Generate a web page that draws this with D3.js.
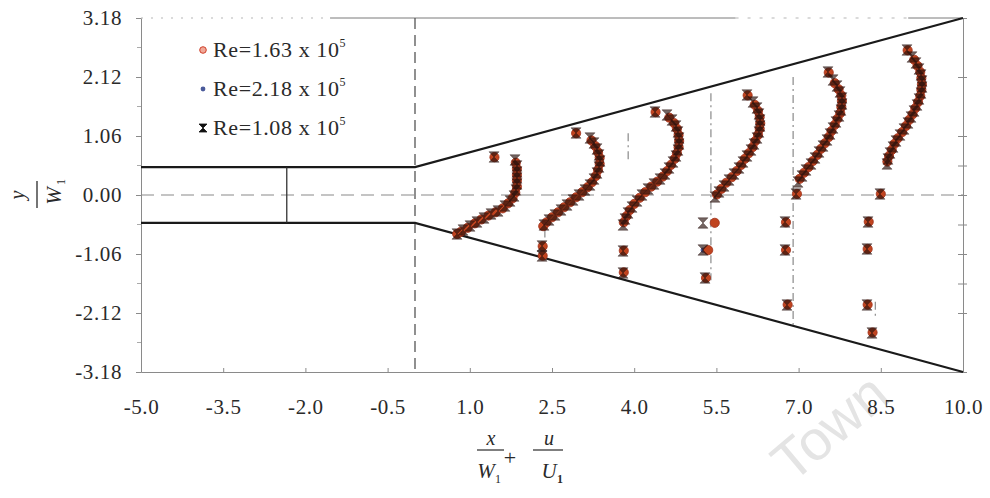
<!DOCTYPE html>
<html><head><meta charset="utf-8">
<script src="https://cdn.jsdelivr.net/npm/d3@7"></script>
<style>
html,body{margin:0;padding:0;background:#fff;}
svg{display:block;font-family:"Liberation Serif","Times New Roman",serif;}
</style></head><body>
<svg id="chart" width="990" height="498"></svg>
<script>
// Axis ticks
const xTicks = [-5.0, -3.5, -2.0, -0.5, 1.0, 2.5, 4.0, 5.5, 7.0, 8.5, 10.0];
const yTicks = [3.18, 2.12, 1.06, 0, -1.06, -2.12, -3.18];
const yMinorTicks = [2.65, 1.59, 0.53, -0.53, -1.59, -2.65];

// Channel and diffuser walls (x/W1, y/W1)
const upperWall = [[-5, 0.5], [0, 0.5], [10, 3.18]];
const lowerWall = [[-5, -0.5], [0, -0.5], [10, -3.18]];
const throatMark = [[-2.34, 0.5], [-2.34, -0.5]];

// Measurement station guide lines [x, yTop, yBottom]
const stationLines = [
  [2.37, -0.62, -0.88],
  [3.89, 1.11, 0.63],
  [5.40, 1.83, -1.53],
  [6.90, 2.12, -2.33],
  [8.40, -1.92, -2.22]
];

// Legend labels
const seriesLabels = ["Re=1.63 x 10", "Re=2.18 x 10", "Re=1.08 x 10"];
const seriesExp = ["5", "5", "5"];

// Velocity profiles, x/W1 + u/U1 against y/W1
const re108 = [
  // station 1
  [1.442,0.683],[1.825,0.629],[1.861,0.521],[1.861,0.413],[1.861,0.305],[1.861,0.198],[1.843,0.090],[1.807,-0.018],[1.734,-0.108],[1.642,-0.198],[1.515,-0.287],[1.387,-0.341],[1.259,-0.413],[1.131,-0.485],[1.004,-0.557],[0.876,-0.629],[0.766,-0.701],
  // station 2
  [2.938,1.114],[3.193,1.024],[3.266,0.934],[3.321,0.826],[3.358,0.719],[3.376,0.611],[3.358,0.503],[3.321,0.395],[3.266,0.287],[3.193,0.180],[3.102,0.090],[2.993,0.000],[2.883,-0.090],[2.774,-0.180],[2.664,-0.269],[2.555,-0.359],[2.445,-0.449],[2.354,-0.539],[2.318,-0.916],[2.318,-1.096],
  // station 3
  [4.380,1.491],[4.599,1.437],[4.690,1.347],[4.763,1.240],[4.799,1.132],[4.818,1.024],[4.818,0.916],[4.799,0.808],[4.763,0.701],[4.708,0.593],[4.635,0.485],[4.562,0.377],[4.471,0.287],[4.361,0.198],[4.252,0.108],[4.142,0.000],[4.051,-0.108],[3.960,-0.216],[3.887,-0.323],[3.832,-0.431],[3.796,-0.539],[3.796,-1.006],[3.796,-1.401],
  // station 4
  [6.058,1.797],[6.168,1.671],[6.241,1.563],[6.277,1.455],[6.296,1.347],[6.296,1.240],[6.277,1.132],[6.241,1.024],[6.186,0.916],[6.131,0.808],[6.058,0.701],[5.985,0.593],[5.912,0.485],[5.821,0.377],[5.730,0.269],[5.639,0.162],[5.547,0.054],[5.474,-0.036],[5.255,-0.503],[5.255,-0.988],[5.292,-1.491],
  // station 5
  [7.536,2.210],[7.628,2.066],[7.701,1.958],[7.755,1.851],[7.792,1.743],[7.792,1.635],[7.774,1.527],[7.737,1.419],[7.682,1.312],[7.628,1.204],[7.573,1.096],[7.518,0.988],[7.445,0.880],[7.372,0.773],[7.299,0.665],[7.226,0.557],[7.135,0.449],[7.062,0.341],[6.989,0.234],[6.953,0.018],[6.752,-0.485],[6.752,-0.988],[6.788,-1.976],
  // station 6
  [8.978,2.605],[9.069,2.479],[9.142,2.372],[9.197,2.264],[9.234,2.156],[9.252,2.048],[9.252,1.940],[9.234,1.833],[9.197,1.725],[9.161,1.617],[9.106,1.509],[9.051,1.401],[8.996,1.294],[8.923,1.186],[8.850,1.078],[8.777,0.970],[8.723,0.862],[8.668,0.755],[8.631,0.647],[8.613,0.557],[8.485,0.018],[8.266,-0.485],[8.248,-0.970],[8.248,-1.976],[8.339,-2.479]
];

const re163 = [
  // station 1
  [1.45,0.68],[1.84,0.58],[1.86,0.47],[1.86,0.36],[1.86,0.26],[1.86,0.15],[1.83,0.04],[1.78,-0.06],[1.70,-0.15],[1.60,-0.24],[1.47,-0.31],[1.34,-0.37],[1.21,-0.44],[1.09,-0.51],[0.96,-0.59],[0.84,-0.66],[0.77,-0.70],
  // station 2
  [2.94,1.11],[3.22,0.98],[3.29,0.88],[3.34,0.77],[3.37,0.67],[3.37,0.56],[3.34,0.45],[3.30,0.34],[3.23,0.23],[3.15,0.14],[3.05,0.05],[2.94,-0.04],[2.83,-0.13],[2.72,-0.22],[2.61,-0.31],[2.50,-0.40],[2.40,-0.49],[2.34,-0.56],[2.33,-0.92],[2.33,-1.09],
  // station 3
  [4.39,1.49],[4.64,1.39],[4.73,1.29],[4.78,1.19],[4.81,1.08],[4.82,0.97],[4.81,0.86],[4.78,0.75],[4.74,0.65],[4.67,0.54],[4.60,0.43],[4.52,0.33],[4.42,0.24],[4.31,0.15],[4.20,0.05],[4.10,-0.05],[4.00,-0.16],[3.92,-0.27],[3.86,-0.38],[3.81,-0.49],[3.81,-1.00],[3.81,-1.39],
  // station 4
  [6.07,1.79],[6.20,1.62],[6.26,1.51],[6.29,1.40],[6.30,1.29],[6.29,1.19],[6.26,1.08],[6.21,0.97],[6.16,0.86],[6.09,0.75],[6.02,0.65],[5.95,0.54],[5.87,0.43],[5.78,0.32],[5.68,0.22],[5.59,0.11],[5.51,0.01],[5.47,-0.50],[5.35,-0.99],[5.31,-1.49],
  // station 5
  [7.55,2.20],[7.66,2.01],[7.73,1.90],[7.78,1.79],[7.79,1.69],[7.78,1.58],[7.76,1.47],[7.71,1.37],[7.66,1.26],[7.60,1.15],[7.55,1.04],[7.48,0.93],[7.41,0.83],[7.34,0.72],[7.26,0.61],[7.18,0.50],[7.10,0.40],[7.02,0.29],[6.97,0.02],[6.77,-0.49],[6.77,-0.99],[6.80,-1.97],
  // station 6
  [8.99,2.60],[9.11,2.43],[9.17,2.32],[9.22,2.21],[9.24,2.10],[9.25,1.99],[9.24,1.89],[9.22,1.78],[9.18,1.67],[9.13,1.56],[9.08,1.45],[9.02,1.35],[8.96,1.24],[8.89,1.13],[8.81,1.02],[8.75,0.92],[8.70,0.81],[8.65,0.70],[8.62,0.60],[8.50,0.02],[8.28,-0.48],[8.26,-0.97],[8.26,-1.97],[8.35,-2.47]
];

const re218 = [
  [1.85,0.47],[1.83,0.05],[1.45,-0.32],[0.94,-0.60],
  [3.30,0.88],[3.34,0.45],[3.05,0.05],[2.61,-0.31],[2.32,-0.93],
  [4.73,1.29],[4.81,0.86],[4.60,0.43],[4.20,0.05],[3.86,-0.38],[3.80,-1.00],
  [6.27,1.50],[6.21,0.97],[5.95,0.54],[5.59,0.10],[5.26,-0.99],
  [7.77,1.80],[7.65,1.26],[7.41,0.83],[7.10,0.39],[6.76,-0.99],
  [9.22,2.21],[9.18,1.67],[8.96,1.24],[8.70,0.81],[8.62,0.58],[8.49,0.03]
];

const svg = d3.select("#chart");
const x = d3.scaleLinear().domain([-5, 10]).range([141, 963]);
const y = d3.scaleLinear().domain([-3.18, 3.18]).range([372, 18]);

const axisColor = "#8a8a8a";
const textColor = "#2a2a2a";

// faint page watermark behind the chart
svg.append("text").attr("transform", "translate(792,484) rotate(-40)")
  .attr("font-family", "Liberation Sans, Arial, sans-serif").attr("font-size", 56)
  .attr("fill", "#e4e4e4").text("Town");

// ---- frame and axes ----
const gLeft = svg.append("g").attr("transform", `translate(${x(-5)},0)`)
  .call(d3.axisLeft(y).tickValues(yTicks).tickFormat(d => d.toFixed(2)).tickSize(5).tickPadding(14));
gLeft.selectAll(".tick line").attr("stroke", axisColor);
gLeft.select(".domain").attr("stroke", axisColor);
gLeft.selectAll("text").attr("font-size", 21).attr("letter-spacing", 0.6).attr("fill", textColor).attr("font-family", "Liberation Serif");
gLeft.selectAll(".minor").data(yMinorTicks).enter().append("line")
  .attr("x1", -4).attr("x2", 0).attr("y1", d => y(d)).attr("y2", d => y(d)).attr("stroke", "#aaa");

const gBottom = svg.append("g").attr("transform", `translate(0,${y(-3.18)})`)
  .call(d3.axisBottom(x).tickValues(xTicks).tickFormat(d => d.toFixed(1)).tickSizeInner(-4).tickSizeOuter(0).tickPadding(27));
gBottom.selectAll(".tick line").attr("stroke", axisColor);
gBottom.select(".domain").attr("stroke", axisColor);
gBottom.selectAll("text").attr("font-size", 21).attr("letter-spacing", 0.6).attr("fill", textColor).attr("font-family", "Liberation Serif");

const gRight = svg.append("g").attr("transform", `translate(${x(10)},0)`)
  .call(d3.axisRight(y).tickValues(yTicks.concat([0.53, -0.53, -1.59])).tickFormat("").tickSize(4).tickSizeOuter(0));
gRight.selectAll(".tick line").attr("stroke", axisColor).attr("x1", -5);
gRight.select(".domain").attr("stroke", axisColor);

// top border, partly broken
const topBorder = svg.append("g");
topBorder.append("line").attr("x1", x(-5)).attr("x2", x(-1.55)).attr("y1", y(3.18)).attr("y2", y(3.18))
  .attr("stroke", "#b5b5b5").attr("stroke-dasharray", "2,8");
topBorder.append("line").attr("x1", x(-1.55)).attr("x2", x(5.85)).attr("y1", y(3.18)).attr("y2", y(3.18))
  .attr("stroke", "#7a7a7a");
topBorder.append("line").attr("x1", x(5.85)).attr("x2", x(9.0)).attr("y1", y(3.18)).attr("y2", y(3.18))
  .attr("stroke", "#b5b5b5").attr("stroke-dasharray", "3,9");
topBorder.append("line").attr("x1", x(9.0)).attr("x2", x(10)).attr("y1", y(3.18)).attr("y2", y(3.18))
  .attr("stroke", "#7a7a7a");

// ---- reference lines ----
svg.append("line").attr("x1", x(-5)).attr("x2", x(10)).attr("y1", y(0)).attr("y2", y(0))
  .attr("stroke", "#8a8a8a").attr("stroke-width", 1.2).attr("stroke-dasharray", "13,7");
svg.append("line").attr("x1", x(0)).attr("x2", x(0)).attr("y1", y(3.18)).attr("y2", y(-3.18))
  .attr("stroke", "#555").attr("stroke-width", 1.3).attr("stroke-dasharray", "11,6");

svg.append("g").selectAll("line").data(stationLines).enter().append("line")
  .attr("x1", d => x(d[0])).attr("x2", d => x(d[0]))
  .attr("y1", d => y(d[1])).attr("y2", d => y(d[2]))
  .attr("stroke", "#8a8a8a").attr("stroke-width", 1.2).attr("stroke-dasharray", "8,4,2,4");

// ---- walls ----
const line = d3.line().x(d => x(d[0])).y(d => y(d[1]));
[upperWall, lowerWall].forEach(w => {
  svg.append("path").attr("d", line(w)).attr("fill", "none").attr("stroke", "#1a1a1a").attr("stroke-width", 2.2);
});
svg.append("path").attr("d", line(throatMark)).attr("fill", "none").attr("stroke", "#333").attr("stroke-width", 1.3);

// ---- markers ----
const hourglass = "M-5,-5.2H5L-5,5.2H5Z";
const marks = svg.append("g");
marks.append("g").selectAll("circle").data(re218).enter().append("circle")
  .attr("cx", d => x(d[0])).attr("cy", d => y(d[1])).attr("r", 2.6).attr("fill", "#4a5a9a");
marks.append("g").selectAll("circle").data(re163).enter().append("circle")
  .attr("cx", d => x(d[0])).attr("cy", d => y(d[1])).attr("r", 4.6)
  .attr("fill", "#c0441f").attr("stroke", "#a0301a").attr("stroke-width", 0.8);
marks.append("g").selectAll("path").data(re108).enter().append("path")
  .attr("d", hourglass).attr("transform", d => `translate(${x(d[0])},${y(d[1])})`)
  .attr("fill", "#2a120e").attr("fill-opacity", 0.65).attr("stroke", "#2a120e").attr("stroke-opacity", 0.7).attr("stroke-width", 0.6);

// ---- legend ----
const legend = svg.append("g");
const rows = [50, 89, 128];
legend.append("circle").attr("cx", 203).attr("cy", rows[0]).attr("r", 3.3).attr("fill", "#f0a898").attr("stroke", "#d0402a").attr("stroke-width", 1);
legend.append("circle").attr("cx", 203).attr("cy", rows[1]).attr("r", 2.4).attr("fill", "#4a5a9a");
legend.append("path").attr("d", "M-4,-4H4L-4,4H4Z").attr("transform", `translate(203,${rows[2]})`).attr("fill", "#111").attr("stroke", "#111").attr("stroke-width", 0.8);
seriesLabels.forEach((s, i) => {
  const t = legend.append("text").attr("x", 213).attr("y", rows[i] + 7).attr("font-size", 22)
    .attr("letter-spacing", 0.6).attr("fill", textColor);
  t.append("tspan").text(s);
  t.append("tspan").attr("dy", -10).attr("font-size", 12).text(seriesExp[i]);
});

// ---- axis titles ----
const yt = svg.append("g").attr("transform", "translate(37,195) rotate(-90)").attr("fill", textColor);
yt.append("text").attr("x", 0).attr("y", -13).attr("text-anchor", "middle").attr("font-style", "italic").attr("font-size", 20).text("y");
yt.append("line").attr("x1", -13).attr("x2", 14).attr("y1", 0).attr("y2", 0).attr("stroke", textColor).attr("stroke-width", 1.3);
yt.append("text").attr("x", -1).attr("y", 24).attr("text-anchor", "middle").attr("font-style", "italic").attr("font-size", 21).text("W");
yt.append("text").attr("x", 10).attr("y", 28).attr("font-size", 12).text("1");

const xt = svg.append("g").attr("fill", textColor);
xt.append("text").attr("x", 491).attr("y", 445).attr("text-anchor", "middle").attr("font-style", "italic").attr("font-size", 20).text("x");
xt.append("line").attr("x1", 477).attr("x2", 504).attr("y1", 450).attr("y2", 450).attr("stroke", textColor).attr("stroke-width", 1.2);
xt.append("text").attr("x", 486).attr("y", 478).attr("text-anchor", "middle").attr("font-style", "italic").attr("font-size", 21).text("W");
xt.append("text").attr("x", 495).attr("y", 483).attr("font-size", 12).text("1");
xt.append("text").attr("x", 510).attr("y", 465).attr("text-anchor", "middle").attr("font-size", 22).text("+");
xt.append("text").attr("x", 549).attr("y", 445).attr("text-anchor", "middle").attr("font-style", "italic").attr("font-size", 20).text("u");
xt.append("line").attr("x1", 533).attr("x2", 563).attr("y1", 450).attr("y2", 450).attr("stroke", textColor).attr("stroke-width", 1.2);
xt.append("text").attr("x", 549).attr("y", 478).attr("text-anchor", "middle").attr("font-style", "italic").attr("font-size", 21).text("U");
xt.append("text").attr("x", 557).attr("y", 483).attr("font-size", 12).attr("font-weight", "bold").text("1");
</script>
</body></html>
